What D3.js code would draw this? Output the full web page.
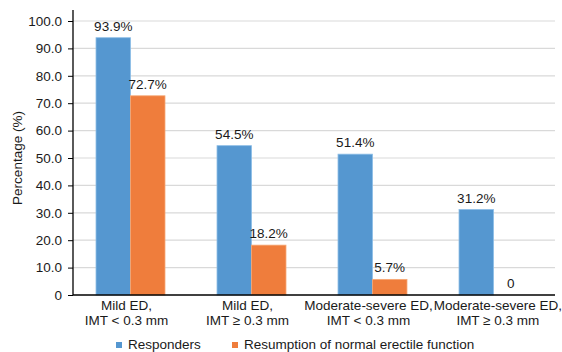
<!DOCTYPE html>
<html>
<head>
<meta charset="utf-8">
<script src="https://cdn.jsdelivr.net/npm/d3@7"></script>
<style>
  body { margin: 0; background: #fff; }
  text { font-family: "Liberation Sans", Arial, sans-serif; fill: #1a1a1a; }
</style>
</head>
<body>
<svg id="chart"></svg>
<script>
// Data
const categories = [
    ["Mild ED,", "IMT < 0.3 mm"],
    ["Mild ED,", "IMT \u2265 0.3 mm"],
    ["Moderate-severe ED,", "IMT < 0.3 mm"],
    ["Moderate-severe ED,", "IMT \u2265 0.3 mm"]
];
const seriesNames = ["Responders", "Resumption of normal erectile function"];
const responders = [93.9, 54.5, 51.4, 31.2];
const resumption = [72.7, 18.2, 5.7, 0];
const yTicks = [0, 10, 20, 30, 40, 50, 60, 70, 80, 90, 100];
const colors = ["#5597d0", "#ef7d3c"];

const width = 562, height = 352;
const margin = { top: 21, right: 7, bottom: 57, left: 73 };
const plotW = width - margin.left - margin.right;
const plotH = height - margin.top - margin.bottom;
const fontSize = "13.5px";

const svg = d3.select("#chart")
    .attr("width", width)
    .attr("height", height);

const g = svg.append("g")
    .attr("transform", `translate(${margin.left}, ${margin.top})`);

// Scales
const x0 = d3.scaleBand().domain(d3.range(categories.length)).range([-3, 481]).paddingInner(0.43).paddingOuter(0.215);
const x1 = d3.scaleBand().domain([0, 1]).range([0, x0.bandwidth()]);
const y = d3.scaleLinear().domain([0, 100]).range([plotH, 0]);

// Gridlines
g.selectAll(".grid")
    .data(yTicks.filter(d => d > 0))
    .enter().append("line")
    .attr("x1", 0).attr("x2", plotW)
    .attr("y1", d => y(d)).attr("y2", d => y(d))
    .attr("stroke", "#d9d9d9")
    .attr("stroke-width", 1.2);

// Bars
const rows = categories.map((c, i) => [responders[i], resumption[i]]);
const groups = g.selectAll(".group")
    .data(rows)
    .enter().append("g")
    .attr("transform", (d, i) => `translate(${x0(i)}, 0)`);

groups.selectAll("rect")
    .data(d => d.map((v, s) => ({ v, s })))
    .enter().append("rect")
    .attr("x", d => x1(d.s))
    .attr("y", d => y(d.v))
    .attr("width", x1.bandwidth())
    .attr("height", d => plotH - y(d.v))
    .attr("fill", d => colors[d.s])
    .attr("stroke", d => d.v > 0 ? (d.s === 0 ? "#8cbde6" : "#f6a774") : "none")
    .attr("stroke-width", 0.8);

// Value labels
groups.selectAll(".val")
    .data(d => d.map((v, s) => ({ v, s })))
    .enter().append("text")
    .attr("x", d => x1(d.s) + x1.bandwidth() / 2)
    .attr("y", d => y(d.v) - 7)
    .attr("text-anchor", "middle")
    .style("font-size", fontSize)
    .text(d => d.v === 0 ? "0" : d.v.toFixed(1) + "%");

// Y axis
const yAxis = d3.axisLeft(y).tickValues(yTicks).tickSize(5).tickPadding(6)
    .tickFormat(d => d === 0 ? "0" : d.toFixed(1));
const yG = g.append("g").call(yAxis);
yG.select(".domain").attr("d", `M0,${-11}V${plotH}`).attr("stroke", "#000").attr("stroke-width", 1.3);
yG.selectAll(".tick line").attr("stroke", "#000");
yG.selectAll(".tick text").style("font-size", fontSize).attr("fill", "#1a1a1a");

// X axis baseline
g.append("line")
    .attr("x1", 0).attr("x2", plotW)
    .attr("y1", plotH).attr("y2", plotH)
    .attr("stroke", "#000")
    .attr("stroke-width", 1.3);

// Category labels (nudged apart when they would collide)
const xLab = g.selectAll(".xlab")
    .data(categories)
    .enter().append("text")
    .attr("x", (d, i) => x0(i) + x0.bandwidth() / 2 - 4)
    .attr("y", plotH + 15)
    .attr("text-anchor", "middle")
    .style("font-size", fontSize);
xLab.selectAll("tspan")
    .data(d => d)
    .enter().append("tspan")
    .attr("x", function() { return this.parentNode.getAttribute("x"); })
    .attr("dy", (d, i) => i === 0 ? 0 : 15)
    .text(d => d);

let prevRight = -Infinity;
const maxRight = width - margin.left;
xLab.each(function() {
    const t = d3.select(this);
    const bb = this.getBBox();
    let cx = +t.attr("x");
    const half = bb.width / 2;
    if (cx - half < prevRight + 6) cx = prevRight + 6 + half;
    if (cx + half > maxRight) cx = maxRight - half;
    t.attr("x", cx);
    t.selectAll("tspan").attr("x", cx);
    prevRight = cx + half;
});

// Y axis title
svg.append("text")
    .attr("transform", `translate(22, ${margin.top + plotH / 2}) rotate(-90)`)
    .attr("text-anchor", "middle")
    .style("font-size", fontSize)
    .text("Percentage (%)");

// Legend
const legendX = [116, 232];
const legend = svg.selectAll(".legend")
    .data(seriesNames)
    .enter().append("g")
    .attr("transform", (d, i) => `translate(${legendX[i]}, 349)`);
legend.append("rect")
    .attr("x", 0).attr("y", -7)
    .attr("width", 6).attr("height", 6)
    .attr("fill", (d, i) => colors[i]);
legend.append("text")
    .attr("x", 12).attr("y", 0)
    .style("font-size", fontSize)
    .text(d => d);
</script>
</body>
</html>
